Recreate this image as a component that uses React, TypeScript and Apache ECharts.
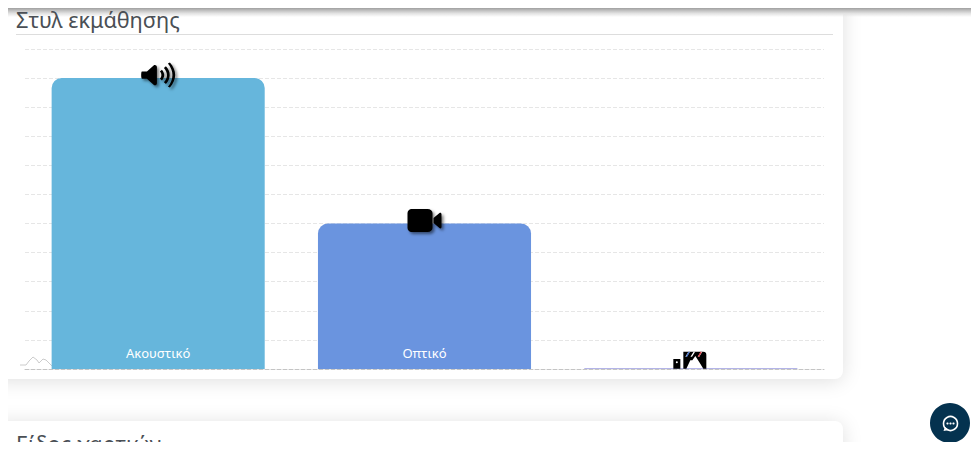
import React, { useEffect, useRef } from "react";
import * as echarts from "echarts";

const title = "Στυλ εκμάθησης";
const nextTitle = "Είδος χαρτιών";
const categories = ["Ακουστικό", "Οπτικό", ""];
const values = [100, 50, 0.3];
const barColors = ["#66b6dc", "#6a94df", "#9a9be0"];

const SPEAKER = "path://M0 8H5L12 1C13 0 15 1 15 3V21C15 23 13 24 12 23L5 16H0C-1 16 -1 8 0 8ZM18 8C20 10 20 14 18 16L20 18C23 14 23 10 20 6ZM22 4C26 9 26 15 22 20L24 22C29 16 29 8 24 2ZM26 -1C32 7 32 17 26 25L28 26C35 17 35 7 28 -2Z";
const CAMERA = "path://M4 0H20C23 0 25 2 25 4V19C25 21 23 23 20 23H4C2 23 0 21 0 19V4C0 2 2 0 4 0ZM26 9L32 4C33 3 34 4 34 5V18C34 19 33 20 32 19L26 14Z";
const PICTURE = "path://M0 8H7V17H0ZM2.5 11A1 1 0 1 0 4.5 11A1 1 0 1 0 2.5 11ZM10 1H30C32 1 33 2 33 4V17H10ZM13 17H30L26 11L22 5L19 9L17 9Z";
const STRIPES_W = "path://M0 5L3 0H4.5L1.5 5ZM5 5L8 0H9.5L6.5 5ZM12 5L15 0H16.5L13.5 5Z";
const STRIPES_C = "path://M0 5L3 0H4.5L1.5 5Z";

export default function App() {
  const ref = useRef<HTMLDivElement>(null);
  useEffect(() => {
    const chart = echarts.init(ref.current!, undefined, { renderer: "svg" });
    const shadow = { shadowBlur: 3, shadowColor: "rgba(0,0,0,0.5)", shadowOffsetX: 2, shadowOffsetY: 2 };
    chart.setOption({
      animation: false,
      backgroundColor: "transparent",
      textStyle: { fontFamily: "Noto Sans" },
      title: {
        text: title, left: 11, top: 3,
        textStyle: { fontSize: 21.7, fontWeight: 400, color: "#4a4f55", fontFamily: "Noto Sans" },
      },
      grid: { left: 25, right: 147, top: 49, height: 320 },
      xAxis: {
        type: "category", data: categories,
        axisLine: { show: true, lineStyle: { color: "#c4c4c4", type: "dashed" } },
        axisTick: { show: false }, axisLabel: { show: false },
      },
      yAxis: {
        type: "value", min: 0, max: 110, interval: 10,
        axisLabel: { show: false }, axisLine: { show: false }, axisTick: { show: false },
        splitLine: { lineStyle: { color: "#e6e6e6", type: "dashed" } },
      },
      series: [{
        type: "bar", barWidth: "80%", z: 2,
        data: values.map((v, i) => ({
          value: v,
          itemStyle: { color: barColors[i], borderRadius: i < 2 ? [10, 10, 0, 0] : 0 },
        })),
        label: {
          show: true, position: "insideBottom", distance: 10, formatter: "{b}",
          color: "#ffffff", fontSize: 13, fontFamily: "Noto Sans",
        },
        markPoint: {
          silent: true, label: { show: false },
          data: [
            { coord: [categories[0], values[0]], symbol: SPEAKER, symbolSize: [34, 25], symbolOffset: [0, -3], itemStyle: { color: "#000", ...shadow } },
            { coord: [categories[1], values[1]], symbol: CAMERA, symbolSize: [34, 23], symbolOffset: [0, -3], itemStyle: { color: "#000", ...shadow } },
            { coord: [2, values[2]], symbol: PICTURE, symbolSize: [33, 17], symbolOffset: [-1, -8], itemStyle: { color: "#000" } },
            { coord: [2, values[2]], symbol: STRIPES_W, symbolSize: [17, 5], symbolOffset: [3, -14], itemStyle: { color: "#ffffff" } },
            { coord: [2, values[2]], symbol: STRIPES_C, symbolSize: [4, 5], symbolOffset: [9, -14], itemStyle: { color: "#d8303a" } },
            { coord: [2, values[2]], symbol: STRIPES_C, symbolSize: [4, 5], symbolOffset: [-3, -14], itemStyle: { color: "#3060c0" } },
          ],
        },
      }],
      graphic: [
        { type: "line", z: 1, shape: { x1: 16, y1: 34.5, x2: 833, y2: 34.5 }, style: { stroke: "#dddddd", lineWidth: 1 } },
        { type: "polyline", z: 1, shape: { points: [[20, 365], [26, 365], [29, 361], [33, 357], [37, 360], [39, 363], [43, 359], [46, 360], [52, 366]] }, style: { stroke: "#cccccc", lineWidth: 1, fill: "none" } },
        { type: "text", z: 1, x: 16, y: 432, style: { text: nextTitle, fontSize: 21.7, fill: "#4a4f55", fontFamily: "Noto Sans" } },
        { type: "circle", z: 5, shape: { cx: 950, cy: 423, r: 20 }, style: { fill: "#04324f" } },
        { type: "circle", z: 6, shape: { cx: 950.5, cy: 423.5, r: 7 }, style: { fill: "none", stroke: "#ffffff", lineWidth: 1.6 } },
        { type: "polygon", z: 6, shape: { points: [[945, 427], [943.5, 431], [949, 430]] }, style: { fill: "#ffffff" } },
        { type: "circle", z: 7, shape: { cx: 947.5, cy: 423.5, r: 1.1 }, style: { fill: "#ffffff" } },
        { type: "circle", z: 7, shape: { cx: 950.5, cy: 423.5, r: 1.1 }, style: { fill: "#ffffff" } },
        { type: "circle", z: 7, shape: { cx: 953.5, cy: 423.5, r: 1.1 }, style: { fill: "#ffffff" } },
      ],
    });
    return () => chart.dispose();
  }, []);
  const abs = (s: React.CSSProperties): React.CSSProperties => ({ position: "absolute", ...s });
  return (
    <div style={abs({ left: 0, top: 0, width: 971, height: 463, overflow: "hidden", background: "#fff" })}>
      <style>{"html,body{margin:0;padding:0;background:#fff;overflow:hidden}"}</style>
      <div style={abs({ left: 8, top: 8, width: 963, height: 434, overflow: "hidden" })}>
        <div style={abs({ left: -20, top: -30, width: 855, height: 401, background: "#fff", borderRadius: 8, boxShadow: "0 2px 20px rgba(0,0,0,0.13)" })} />
        <div style={abs({ left: -20, top: 413, width: 855, height: 100, background: "#fff", borderRadius: 8, boxShadow: "0 2px 20px rgba(0,0,0,0.13)" })} />
        <div style={abs({ left: 0, top: 0, width: 963, height: 9, background: "linear-gradient(to bottom, #a0a0a0 0%, #bdbdbd 25%, #e2e2e2 60%, rgba(255,255,255,0) 100%)" })} />
      </div>
      <div ref={ref} style={abs({ left: 0, top: 0, width: 971, height: 463 })} />
      <div style={abs({ left: 0, top: 442, width: 971, height: 21, background: "#fff" })} />
    </div>
  );
}
